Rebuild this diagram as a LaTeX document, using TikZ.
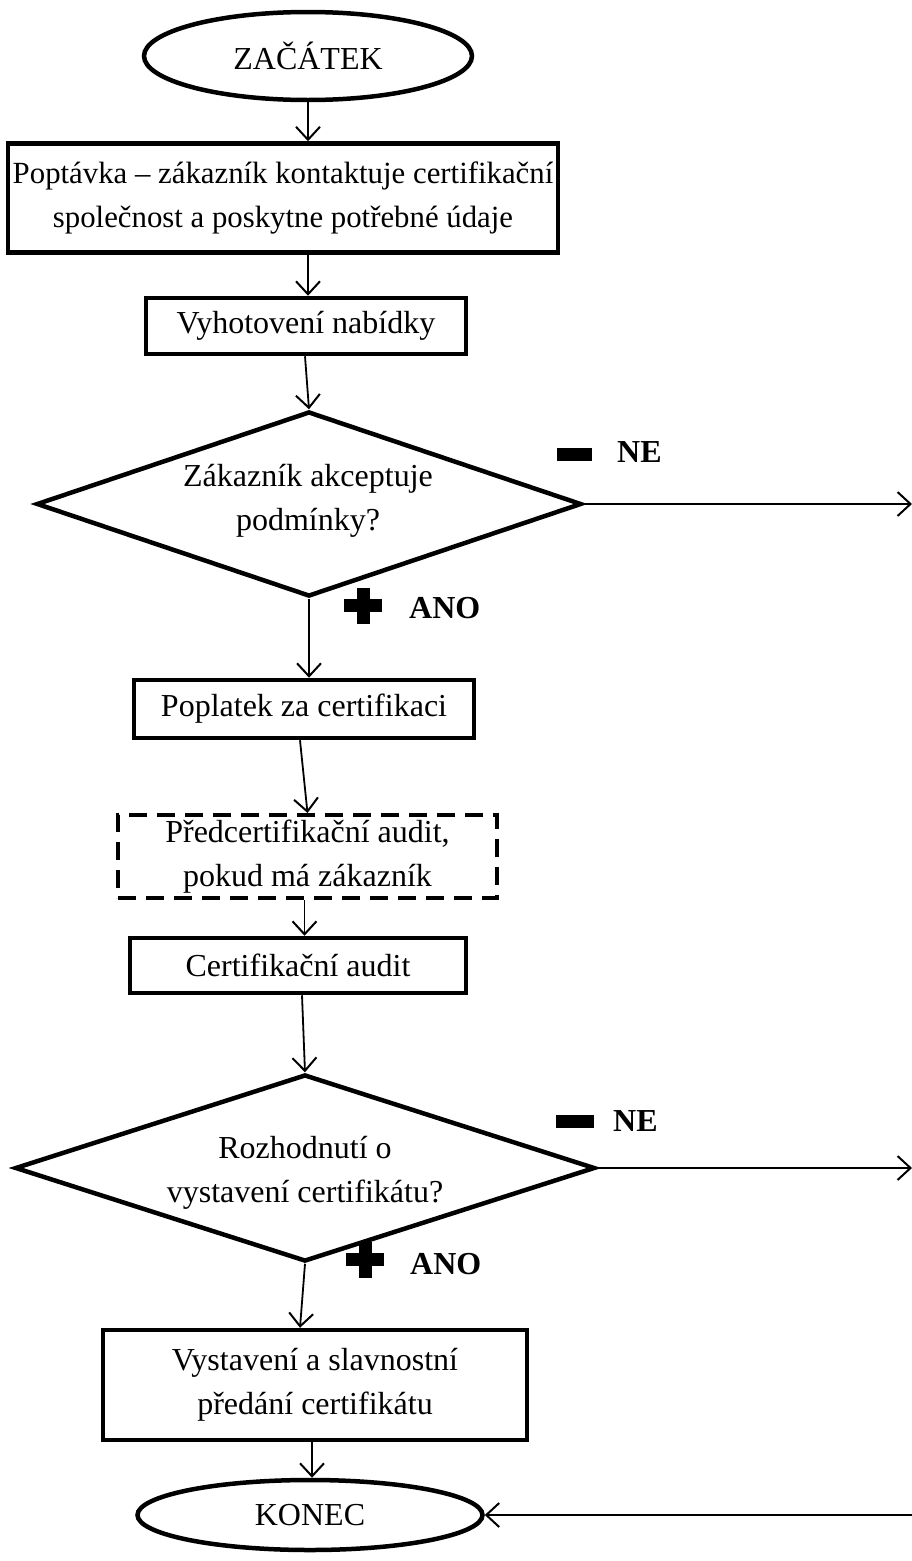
\documentclass[tikz,border=0pt]{standalone}
\usepackage{fontspec}
\setmainfont{Liberation Serif}
\usetikzlibrary{shapes.geometric,arrows.meta}
\begin{document}
\begin{tikzpicture}[x=1pt,y=-1pt,
  txt/.style={font=\fontsize{32}{44}\selectfont,align=center,inner sep=0pt},
  box/.style={txt,draw,line width=4.5pt,rectangle},
  dbox/.style={box,line width=4pt,dash pattern=on 18pt off 10pt},
  ell/.style={txt,draw,line width=4.5pt,ellipse},
  dia/.style={draw,line width=4.5pt,diamond,inner sep=0pt},
  lbl/.style={font=\fontsize{32}{36}\selectfont\bfseries,inner sep=0pt},
  arr/.style={line width=1.8pt,-{Straight Barb[length=13pt,width=24pt,line width=2pt]}},
  sign/.style={fill=black}
]
\useasboundingbox (0,0) rectangle (912,1561);

% nodes
\node[ell,minimum width=328pt,minimum height=88pt] (start) at (308,56) {ZAČÁTEK};
\node[box,font=\fontsize{30.8}{44}\selectfont,minimum width=550pt,minimum height=109pt] (b1) at (283,198) {Poptávka – zákazník kontaktuje certifikační\\společnost a poskytne potřebné údaje};
\node[box,minimum width=320pt,minimum height=56pt] (b2) at (306,326) {Vyhotovení nabídky};
\node[dia,minimum width=545pt,minimum height=185pt] (d1) at (309,504) {};
\node[txt] (t1) at (308,501) {Zákazník akceptuje\\podmínky?};
\node[box,minimum width=340pt,minimum height=58pt] (b3) at (304,709) {Poplatek za certifikaci};
\node[dbox,minimum width=379pt,minimum height=83pt] (b4) at (307.5,856.5) {Předcertifikační audit,\\pokud má zákazník};
\node[box,minimum width=336pt,minimum height=55pt] (b5) at (298,965.5) {Certifikační audit};
\node[dia,minimum width=580pt,minimum height=187pt] (d2) at (305,1168) {};
\node[txt] (t2) at (305,1173) {Rozhodnutí o\\vystavení certifikátu?};
\node[box,minimum width=424pt,minimum height=110pt] (b6) at (315,1385) {Vystavení a slavnostní\\předání certifikátu};
\node[ell,minimum width=345pt,minimum height=70pt] (end) at (310,1515) {KONEC};

% labels
\fill[sign] (557,448) rectangle (592,461);
\node[lbl,anchor=west] (ne1) at (617,452) {NE};
\fill[sign] (344,599) rectangle (382,612);
\fill[sign] (357,588) rectangle (370,624);
\node[lbl,anchor=west] (ano1) at (409,608) {ANO};
\fill[sign] (556,1115) rectangle (594,1128);
\node[lbl,anchor=west] (ne2) at (613,1121) {NE};
\fill[sign] (346,1253) rectangle (384,1266);
\fill[sign] (359,1242) rectangle (372,1278);
\node[lbl,anchor=west] (ano2) at (410,1264) {ANO};

% free ends at the right edge
\coordinate (r1) at (912,504);
\coordinate (r2) at (912,1168);
\coordinate (r3) at (912,1515);

% connectors
\draw[arr] (start.south) -- (start.south |- b1.north);
\draw[arr] (start.south |- b1.south) -- (start.south |- b2.north);
\draw[arr] ([xshift=-1pt]b2.south) -- (d1.north);
\draw[arr] (d1.south) -- (d1.south |- b3.north);
\draw[arr] ([xshift=-4pt]b3.south) -- (b4.north);
\draw[arr] ([xshift=-3pt]b4.south) -- ([xshift=-3pt]b4.south |- b5.north);
\draw[arr] ([xshift=4pt]b5.south) -- (d2.north);
\draw[arr] (d2.south) -- ([xshift=-15pt]b6.north);
\draw[arr] ([xshift=-3pt]b6.south) -- ([xshift=-3pt]b6.south |- end.north);
\draw[arr] (d1.east) -- (r1);
\draw[arr] (d2.east) -- (r2);
\draw[arr] (r3) -- (end.east);
\end{tikzpicture}
\end{document}
